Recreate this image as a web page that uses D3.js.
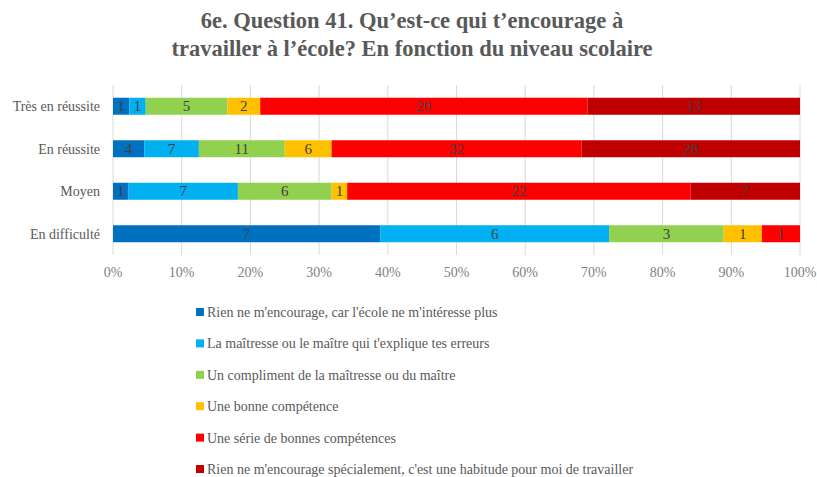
<!DOCTYPE html>
<html>
<head>
<meta charset="utf-8">
<script src="https://cdnjs.cloudflare.com/ajax/libs/d3/7.8.5/d3.min.js"></script>
<style>
  body { margin: 0; background: #fff; }
  svg text { font-family: "Times New Roman", "Liberation Serif", Times, serif; }
</style>
</head>
<body>
<svg id="chart" font-family="Liberation Serif"></svg>
<script>
var levels = ["Très en réussite", "En réussite", "Moyen", "En difficulté"];
var answers = [
  "Rien ne m'encourage, car l'école ne m'intéresse plus",
  "La maîtresse ou le maître qui t'explique tes erreurs",
  "Un compliment de la maîtresse ou du maître",
  "Une bonne compétence",
  "Une série de bonnes compétences",
  "Rien ne m'encourage spécialement, c'est une habitude pour moi de travailler"
];
var colors = ["#0070C0", "#00B0F0", "#92D050", "#FFC000", "#FF0000", "#C00000"];
// counts per level, in answer order
var tresEnReussite = [1, 1, 5, 2, 20, 13];
var enReussite = [4, 7, 11, 6, 32, 28];
var moyen = [1, 7, 6, 1, 22, 7];
var enDifficulte = [7, 6, 3, 1, 1, 0];
var ticks = [0, 0.1, 0.2, 0.3, 0.4, 0.5, 0.6, 0.7, 0.8, 0.9, 1];

var counts = [tresEnReussite, enReussite, moyen, enDifficulte];

var screen = { width: 817, height: 477 };
var svg = d3.select("#chart")
  .attr("width", screen.width)
  .attr("height", screen.height);

var xScale = d3.scaleLinear().domain([0, 1]).range([113, 800]);
var yScale = d3.scaleBand().domain(levels).range([85, 255]).paddingInner(0.6).paddingOuter(0.3);

// title
var title = svg.append("text")
  .attr("text-anchor", "middle")
  .attr("fill", "#595959")
  .attr("font-size", 22.5)
  .attr("font-weight", "bold");
title.append("tspan").attr("x", 412).attr("y", 28).text("6e. Question 41. Qu’est-ce qui t’encourage à");
title.append("tspan").attr("x", 412).attr("y", 56).text("travailler à l’école? En fonction du niveau scolaire");

// gridlines
svg.append("g").selectAll("line")
  .data(ticks)
  .enter()
  .append("line")
  .attr("x1", function(d) { return xScale(d); })
  .attr("x2", function(d) { return xScale(d); })
  .attr("y1", 85)
  .attr("y2", 255)
  .attr("stroke", "#d9d9d9")
  .attr("stroke-width", 1);

// tick labels
svg.append("g").selectAll("text")
  .data(ticks)
  .enter()
  .append("text")
  .attr("x", function(d) { return xScale(d); })
  .attr("y", 277)
  .attr("text-anchor", "middle")
  .attr("fill", "#7f7f7f")
  .attr("font-size", 14)
  .text(function(d) { return Math.round(d * 100) + "%"; });

// stacked segments
var segs = [];
counts.forEach(function(row, i) {
  var total = d3.sum(row);
  var acc = 0;
  row.forEach(function(v, j) {
    segs.push({ level: levels[i], k: j, v: v, x0: acc / total, x1: (acc + v) / total });
    acc += v;
  });
});
segs = segs.filter(function(s) { return s.v > 0; });

svg.append("g").selectAll("rect")
  .data(segs)
  .enter()
  .append("rect")
  .attr("x", function(d) { return xScale(d.x0); })
  .attr("width", function(d) { return xScale(d.x1) - xScale(d.x0); })
  .attr("y", function(d) { return yScale(d.level); })
  .attr("height", yScale.bandwidth())
  .attr("fill", function(d) { return colors[d.k]; });

svg.append("g").selectAll("text")
  .data(segs)
  .enter()
  .append("text")
  .attr("x", function(d) { return (xScale(d.x0) + xScale(d.x1)) / 2; })
  .attr("y", function(d) { return yScale(d.level) + yScale.bandwidth() / 2 + 5; })
  .attr("text-anchor", "middle")
  .attr("fill", "#404040")
  .attr("font-size", 15)
  .text(function(d) { return d.v; });

// category labels
svg.append("g").selectAll("text")
  .data(levels)
  .enter()
  .append("text")
  .attr("x", 100)
  .attr("y", function(d) { return yScale(d) + yScale.bandwidth() / 2 + 5; })
  .attr("text-anchor", "end")
  .attr("fill", "#595959")
  .attr("font-size", 14)
  .text(function(d) { return d; });

// legend
var legend = svg.append("g").selectAll("g")
  .data(answers)
  .enter()
  .append("g")
  .attr("transform", function(d, i) { return "translate(196," + (312 + i * 31.4) + ")"; });
legend.append("rect")
  .attr("x", 0).attr("y", -4)
  .attr("width", 8).attr("height", 8)
  .attr("fill", function(d, i) { return colors[i]; });
legend.append("text")
  .attr("x", 11)
  .attr("y", 5)
  .attr("fill", "#595959")
  .attr("font-size", 14)
  .text(function(d) { return d; });
</script>
</body>
</html>
